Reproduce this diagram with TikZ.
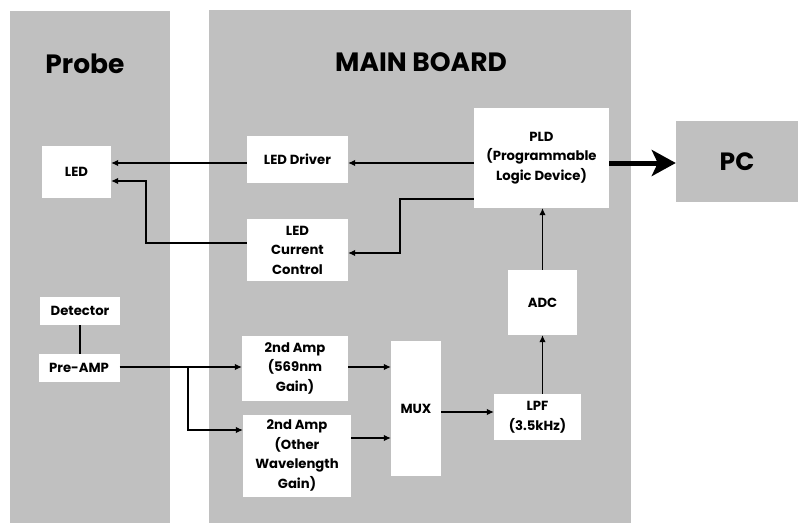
\documentclass[tikz,border=0pt]{standalone}
\usepackage{fontspec}
\setmainfont{Poppins}
\usetikzlibrary{arrows.meta}
\definecolor{panel}{RGB}{192,192,192}
\tikzset{
  box/.style={fill=white, inner sep=0pt, align=center, font=\fontsize{13.2}{19.5}\selectfont\bfseries},
  arr/.style={line width=1.1pt, -{Latex[length=7pt,width=6.5pt]}},
  plain/.style={line width=1.1pt},
  bigarr/.style={line width=5pt, -{Stealth[length=24pt,width=26pt,inset=6pt]}},
  title/.style={font=\fontsize{26.5}{30}\selectfont\bfseries}
}
\begin{document}
\begin{tikzpicture}[x=1pt,y=-1pt]
\useasboundingbox (0,0) rectangle (798,523);
% panels
\fill[panel] (10,11) rectangle (170,523);
\fill[panel] (209,10) rectangle (631,523);
\node[title] (probe) at (85,64) {Probe};
\node[title] (main) at (421,62) {MAIN BOARD};
\node[fill=panel, minimum width=122pt, minimum height=81pt, inner sep=0pt, font=\fontsize{25}{28}\selectfont\bfseries] (pc) at (737,161.5) {PC};
% boxes
\node[box, minimum width=69pt, minimum height=52pt] (led) at (76.5,172) {LED};
\node[box, minimum width=101pt, minimum height=47pt] (drv) at (297.5,159.5) {LED Driver};
\node[box, minimum width=101pt, minimum height=62pt] (cc) at (297.5,250) {LED\\Current\\Control};
\node[box, minimum width=135pt, minimum height=100pt] (pld) at (541.5,158) {PLD\\(Programmable\\Logic Device)};
\node[box, minimum width=69pt, minimum height=65pt] (adc) at (542.5,302.5) {ADC};
\node[box, minimum width=87pt, minimum height=46pt] (lpf) at (537.5,417) {LPF\\(3.5kHz)};
\node[box, minimum width=50pt, minimum height=135pt] (mux) at (416,408.5) {MUX};
\node[box, minimum width=106pt, minimum height=65pt] (amp1) at (295,368) {2nd Amp\\(569nm\\Gain)};
\node[box, minimum width=108pt, minimum height=82pt] (amp2) at (297,455.5) {2nd Amp\\(Other\\Wavelength\\Gain)};
\node[box, minimum width=80pt, minimum height=28pt] (det) at (80,311) {Detector};
\node[box, minimum width=81pt, minimum height=28pt] (pre) at (79,368) {Pre-AMP};
% connectors
\draw[arr] (drv.west |- 0,163) -- (led.east |- 0,163);
\draw[arr] (cc.west |- 0,243) -| (146,181) -- (led.east |- 0,181);
\draw[arr] (pld.west |- 0,163) -- (drv.east |- 0,163);
\draw[arr] (pld.west |- 0,199) -| (400,253) -- (cc.east |- 0,253);
\draw[arr] (adc.north) -- (pld.south -| adc.north);
\draw[arr] (lpf.north -| adc.south) -- (adc.south);
\draw[arr] (mux.east |- 0,412) -- (lpf.west |- 0,412);
\draw[arr] (amp1.east |- 0,367) -- (mux.west |- 0,367);
\draw[arr] (amp2.east |- 0,438) -- (mux.west |- 0,438);
\draw[arr] (pre.east |- 0,367) -- (amp1.west |- 0,367);
\draw[arr] (188,367) |- (amp2.west |- 0,430);
\draw[plain] (det.south) -- (pre.north -| det.south);
\draw[bigarr] (pld.east |- 0,163) -- (pc.west |- 0,163);
\end{tikzpicture}
\end{document}
